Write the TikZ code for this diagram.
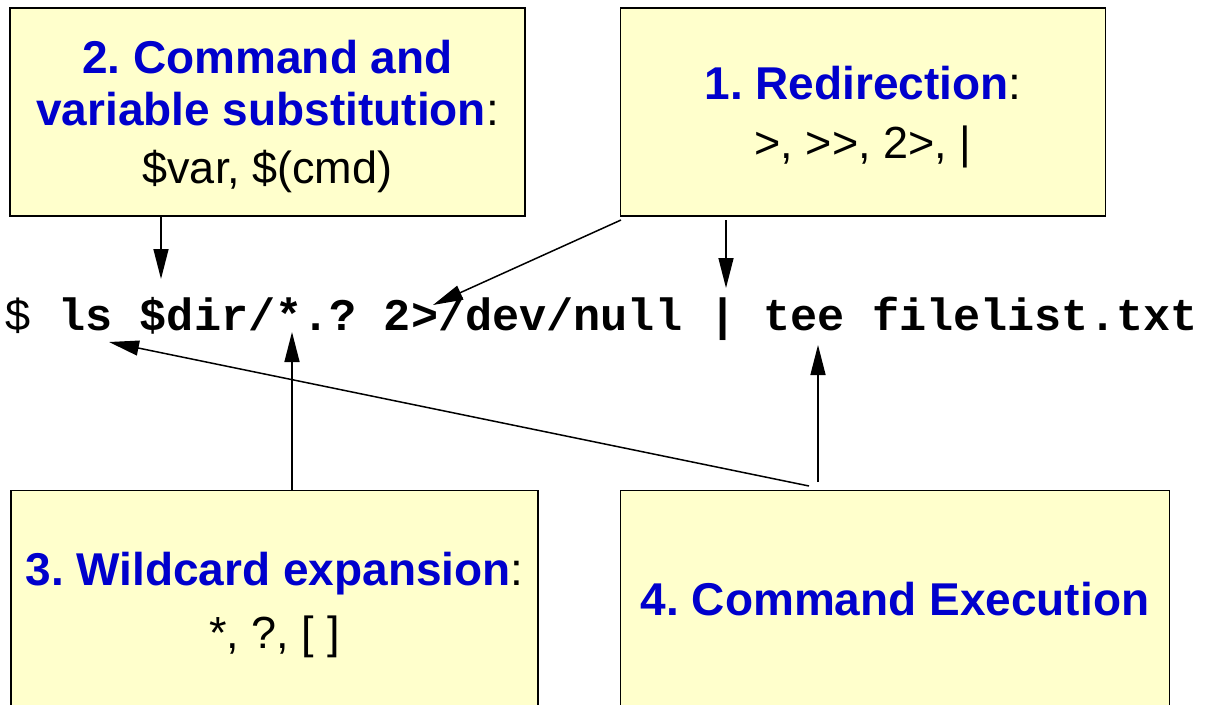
\documentclass[tikz,border=0pt]{standalone}
\usepackage{fontspec}
\setmainfont{Liberation Sans}
\setmonofont{Liberation Mono}
\usetikzlibrary{arrows.meta}
\definecolor{boxfill}{HTML}{FFFFCC}
\definecolor{titleblue}{HTML}{0000CC}
\frenchspacing
\begin{document}
\begin{tikzpicture}[x=1pt,y=-1pt,
  box/.style={draw=black, line width=1.5pt, fill=boxfill, inner sep=0pt, outer sep=0pt},
  ttl/.style={font=\fontsize{46}{52}\selectfont\bfseries, text=titleblue, inner sep=0pt, anchor=base},
  txt/.style={font=\fontsize{45}{52}\selectfont, text=black, inner sep=0pt, anchor=base},
  cmd/.style={font=\fontsize{45.2}{52}\selectfont\ttfamily, inner sep=0pt, anchor=base west},
  arr/.style={-{Triangle[length=30pt,width=15pt]}, line width=1.5pt}]
\useasboundingbox (0,0) rectangle (1209,704);

% boxes
\node[box, minimum width=515pt, minimum height=208pt] (b2) at (267.5,112) {};
\node[box, minimum width=485pt, minimum height=208pt] (b1) at (863,112) {};
\node[box, minimum width=527pt, minimum height=240pt] (b3) at (274.5,610.5) {};
\node[box, minimum width=549pt, minimum height=240pt] (b4) at (895,610.5) {};

% box texts
\node[ttl] (t2a) at (267.5,73) {2. Command and};
\node[ttl] (t2b) at (267.5,125) {variable substitution\textcolor{black}{\mdseries:}};
\node[txt] (t2c) at (267.5,183) {\$var, \$(cmd)};

\node[ttl] (t1a) at (863,99) {1. Redirection\textcolor{black}{\mdseries:}};
\node[txt] (t1b) at (863,158) {>, >{}>, 2>, |};

\node[ttl] (t3a) at (274.5,585) {3. Wildcard expansion\textcolor{black}{\mdseries:}};
\node[txt] (t3b) at (274.5,648) {*, ?, [ ]};

\node[ttl] (t4a) at (895,615) {4. Command Execution};

% command line
\node[cmd] (cmdline) at (4,330) {\$ \textbf{ls \$dir/*.? 2>/dev/null | tee filelist.txt}};

% connector end points
\coordinate (tipSub) at (161,279);
\coordinate (s1a) at (621,220);
\coordinate (tipRedir) at (433,305);
\coordinate (s1b) at (726,220);
\coordinate (tipPipe) at (726,288);
\coordinate (tipStar) at (292,332);
\coordinate (s4a) at (818,482);
\coordinate (tipTee) at (818,345);
\coordinate (s4b) at (809,486);
\coordinate (tipLs) at (109,342);

% connectors
\draw[arr] (b2.south -| tipSub) -- (tipSub);
\draw[arr] (s1a) -- (tipRedir);
\draw[arr] (s1b) -- (tipPipe);
\draw[arr] (b3.north -| tipStar) -- (tipStar);
\draw[arr] (s4a) -- (tipTee);
\draw[arr] (s4b) -- (tipLs);
\end{tikzpicture}
\end{document}
